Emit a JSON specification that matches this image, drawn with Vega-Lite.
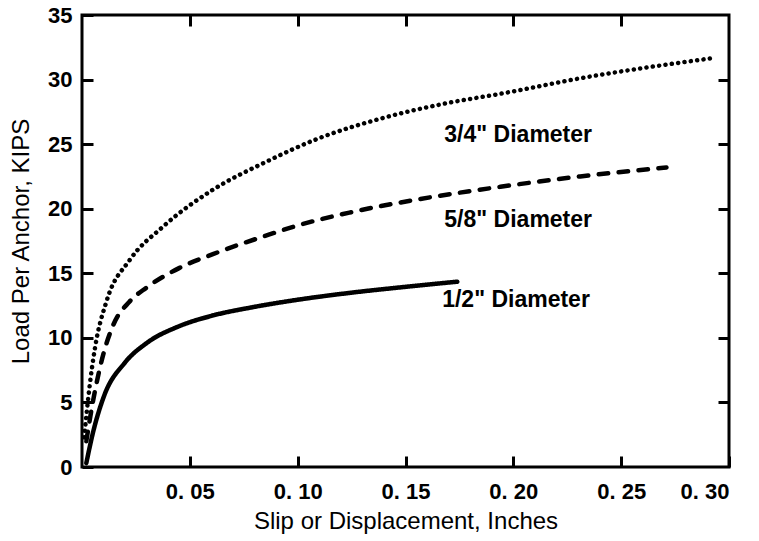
{
  "$schema": "https://vega.github.io/schema/vega-lite/v6.json",
  "width": 647,
  "height": 452,
  "autosize": "none",
  "padding": {"left": 82, "top": 15, "right": 30, "bottom": 74},
  "background": "white",
  "config": {
    "view": {"stroke": "black", "strokeWidth": 3},
    "font": "Liberation Sans",
    "axis": {
      "domain": false, "offset": -11, "zindex": 1,
      "ticks": true, "tickColor": "black", "tickWidth": 3, "tickSize": 11, "tickOpacity": 1,
      "labelColor": "black", "labelFont": "Liberation Sans", "labelFontSize": 22, "labelFontWeight": "bold",
      "titleColor": "black", "titleFont": "Liberation Sans", "titleFontSize": 24, "titleFontWeight": "normal",
      "grid": false
    }
  },
  "datasets": {
    "curves": [
      {"s": "1/2", "x": 0.002, "y": 0.3},
      {"s": "1/2", "x": 0.005, "y": 2.6},
      {"s": "1/2", "x": 0.01, "y": 5.4},
      {"s": "1/2", "x": 0.02, "y": 8.1},
      {"s": "1/2", "x": 0.03, "y": 9.6},
      {"s": "1/2", "x": 0.045, "y": 10.9},
      {"s": "1/2", "x": 0.06, "y": 11.7},
      {"s": "1/2", "x": 0.08, "y": 12.4},
      {"s": "1/2", "x": 0.10, "y": 12.95},
      {"s": "1/2", "x": 0.125, "y": 13.5},
      {"s": "1/2", "x": 0.15, "y": 13.95},
      {"s": "1/2", "x": 0.174, "y": 14.35},
      {"s": "5/8", "x": 0.002, "y": 2.0},
      {"s": "5/8", "x": 0.005, "y": 5.0},
      {"s": "5/8", "x": 0.01, "y": 8.8},
      {"s": "5/8", "x": 0.0145, "y": 11.0},
      {"s": "5/8", "x": 0.022, "y": 12.8},
      {"s": "5/8", "x": 0.03, "y": 13.9},
      {"s": "5/8", "x": 0.045, "y": 15.4},
      {"s": "5/8", "x": 0.061, "y": 16.5},
      {"s": "5/8", "x": 0.085, "y": 17.9},
      {"s": "5/8", "x": 0.10, "y": 18.7},
      {"s": "5/8", "x": 0.124, "y": 19.7},
      {"s": "5/8", "x": 0.155, "y": 20.7},
      {"s": "5/8", "x": 0.194, "y": 21.7},
      {"s": "5/8", "x": 0.231, "y": 22.5},
      {"s": "5/8", "x": 0.271, "y": 23.2},
      {"s": "3/4", "x": 0.001, "y": 2.3},
      {"s": "3/4", "x": 0.0037, "y": 6.5},
      {"s": "3/4", "x": 0.006, "y": 9.2},
      {"s": "3/4", "x": 0.0115, "y": 12.9},
      {"s": "3/4", "x": 0.022, "y": 16.0},
      {"s": "3/4", "x": 0.0375, "y": 18.6},
      {"s": "3/4", "x": 0.061, "y": 21.5},
      {"s": "3/4", "x": 0.085, "y": 23.6},
      {"s": "3/4", "x": 0.109, "y": 25.4},
      {"s": "3/4", "x": 0.139, "y": 27.0},
      {"s": "3/4", "x": 0.170, "y": 28.2},
      {"s": "3/4", "x": 0.194, "y": 28.9},
      {"s": "3/4", "x": 0.231, "y": 30.1},
      {"s": "3/4", "x": 0.294, "y": 31.7}
    ],
    "labels": [
      {"x": 0.168, "y": 25.7, "t": "3/4\" Diameter"},
      {"x": 0.168, "y": 19.1, "t": "5/8\" Diameter"},
      {"x": 0.167, "y": 12.9, "t": "1/2\" Diameter"}
    ]
  },
  "layer": [
    {
      "data": {"name": "curves"},
      "mark": {"type": "line", "interpolate": "monotone", "color": "black", "strokeWidth": 4.5, "strokeCap": "round"},
      "encoding": {
        "x": {"field": "x", "type": "quantitative", "scale": {"domain": [0, 0.3], "nice": false},
          "axis": {"orient": "bottom", "values": [0.05, 0.1, 0.15, 0.2, 0.25, 0.3], "labelExpr": "replace(format(datum.value, '.2f'), '.', '. ')", "labelPadding": 14, "title": "Slip or Displacement, Inches", "titlePadding": 7}},
        "y": {"field": "y", "type": "quantitative", "scale": {"domain": [0, 35], "nice": false},
          "axis": {"orient": "left", "values": [0, 5, 10, 15, 20, 25, 30, 35], "labelPadding": 10, "title": "Load Per Anchor, KIPS", "titlePadding": 14}},
        "strokeDash": {"field": "s", "type": "nominal", "legend": null,
          "scale": {"domain": ["1/2", "5/8", "3/4"], "range": [[1, 0], [9.5, 10.5], [0.1, 6.3]]}},
        "detail": {"field": "s"}
      }
    },
    {
      "data": {"name": "curves"},
      "mark": {"type": "point", "opacity": 0},
      "encoding": {
        "x": {"field": "x", "type": "quantitative", "scale": {"domain": [0, 0.3], "nice": false},
          "axis": {"orient": "top", "values": [0.05, 0.1, 0.15, 0.2, 0.25], "labels": false, "title": null}},
        "y": {"field": "y", "type": "quantitative", "scale": {"domain": [0, 35], "nice": false},
          "axis": {"orient": "right", "values": [5, 10, 15, 20, 25, 30], "labels": false, "title": null}}
      }
    },
    {
      "data": {"name": "labels"},
      "mark": {"type": "text", "align": "left", "baseline": "middle", "font": "Liberation Sans", "fontSize": 23, "fontWeight": "bold", "color": "black"},
      "encoding": {
        "x": {"field": "x", "type": "quantitative", "axis": null},
        "y": {"field": "y", "type": "quantitative", "axis": null},
        "text": {"field": "t"}
      }
    }
  ],
  "resolve": {"axis": {"x": "independent", "y": "independent"}}
}
